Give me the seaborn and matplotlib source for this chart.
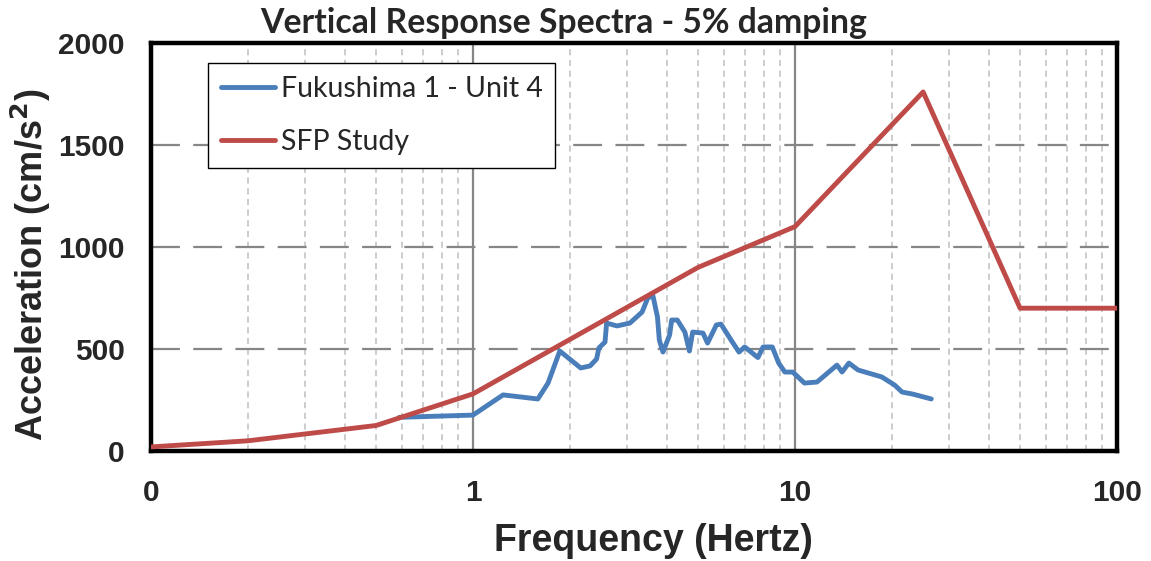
import numpy as np
import pandas as pd
import matplotlib
matplotlib.use("Agg")
import matplotlib.pyplot as plt
from matplotlib.ticker import FixedLocator, NullFormatter, FixedFormatter
from matplotlib.lines import Line2D
import seaborn as sns

# Response spectra data
sfp_freq = [0.1, 0.2, 0.5, 1.0, 5.0, 10.0, 25.0, 50.0, 100.0]
sfp_acc = [20, 50, 125, 280, 900, 1100, 1760, 700, 700]

fuku_freq = [0.59, 1.0, 1.24, 1.59, 1.71, 1.86, 2.16, 2.31, 2.42, 2.46, 2.57, 2.60,
             2.80, 3.07, 3.35, 3.49, 3.62, 3.74, 3.79, 3.89, 4.08, 4.14, 4.31, 4.55,
             4.70, 4.81, 5.18, 5.35, 5.70, 5.89, 6.33, 6.70, 6.98, 7.67, 7.96, 8.50,
             8.90, 9.30, 9.84, 10.7, 11.7, 13.5, 14.0, 14.7, 15.7, 18.6, 20.4, 21.5,
             23.2, 26.5]
fuku_acc = [165, 176, 275, 255, 333, 490, 407, 417, 451, 505, 534, 627,
            613, 627, 681, 750, 762, 657, 544, 485, 569, 642, 642, 583,
            490, 583, 578, 529, 618, 622, 544, 485, 510, 458, 510, 510,
            431, 387, 387, 333, 338, 421, 387, 431, 397, 363, 323, 289,
            279, 255]

series_names = ["Fukushima 1 - Unit 4", "SFP Study"]
x_tick_values = [0.1, 1, 10, 100]
x_tick_labels = ["0", "1", "10", "100"]
y_tick_values = [0, 500, 1000, 1500, 2000]

blue = "#4A7EBB"
red = "#BE4B48"

df = pd.concat([
    pd.DataFrame({"freq": fuku_freq, "acc": fuku_acc, "series": series_names[0]}),
    pd.DataFrame({"freq": sfp_freq, "acc": sfp_acc, "series": series_names[1]}),
], ignore_index=True)

sns.set_theme(style="white")
plt.rcParams["font.family"] = ["Liberation Sans", "DejaVu Sans"]

fig = plt.figure(figsize=(11.51, 5.61), dpi=100)
ax = fig.add_axes([151 / 1151, 110 / 561, 966 / 1151, 408 / 561])

sns.lineplot(data=df, x="freq", y="acc", hue="series", sort=False,
             palette={series_names[0]: blue, series_names[1]: red},
             linewidth=3.5, ax=ax, legend=False, zorder=3)

ax.set_xscale("log")
ax.set_xlim(0.1, 100)
ax.set_ylim(0, 2000)

# grid lines
minor_x = [m * d for d in (0.1, 1, 10) for m in range(2, 10)]
for xv in minor_x:
    ax.axvline(xv, color="#BFBFBF", lw=1.1, dashes=(4, 3), zorder=1)
for xv in (1, 10):
    ax.axvline(xv, color="#868686", lw=1.6, zorder=1.5)
for yv in (500, 1000, 1500):
    ax.axhline(yv, color="#868686", lw=1.6, dashes=(13, 6), zorder=1.5)

# ticks
ax.xaxis.set_major_locator(FixedLocator(x_tick_values))
ax.xaxis.set_major_formatter(FixedFormatter(x_tick_labels))
ax.xaxis.set_minor_locator(FixedLocator(minor_x))
ax.xaxis.set_minor_formatter(NullFormatter())
ax.yaxis.set_major_locator(FixedLocator(y_tick_values))
ax.yaxis.set_minor_locator(FixedLocator(list(range(100, 2000, 100))))
ax.tick_params(axis="both", which="both", direction="in", length=5, width=2.2,
               color="black", top=False, right=False)
ax.tick_params(axis="x", which="major", pad=20, labelsize=21.5)
ax.tick_params(axis="y", which="major", pad=19, labelsize=21.5)
for lab in ax.get_xticklabels() + ax.get_yticklabels():
    lab.set_fontweight("bold")

for sp in ax.spines.values():
    sp.set_visible(True)
    sp.set_color("black")
    sp.set_linewidth(3.2)

ax.set_xlabel("Frequency (Hertz)", fontsize=27, fontweight="bold")
ax.xaxis.set_label_coords((653 - 151) / 966, -(541 - 451) / 408)
ax.xaxis.label.set_va("center")
ax.set_ylabel("Acceleration (cm/s$^\\mathbf{2}$)", fontsize=26, fontweight="bold")
ax.yaxis.set_label_coords(-(151 - 31) / 966, (451 - 265) / 408)
ax.yaxis.label.set_va("center")

fig.text(564 / 1151, 1 - 23 / 561, "Vertical Response Spectra - 5% damping",
         ha="center", va="center", fontsize=24.3, fontweight="bold", family="Lato")

handles = [Line2D([0], [0], color=blue, lw=3.5, solid_capstyle="round"),
           Line2D([0], [0], color=red, lw=3.5, solid_capstyle="round")]
leg = ax.legend(handles, series_names, loc="upper left",
                bbox_to_anchor=(57 / 966, 1 - 20 / 408),
                prop={"family": "Lato", "size": 20.5}, frameon=True, fancybox=False,
                edgecolor="black", framealpha=1, handlelength=1.9, handletextpad=0.2,
                labelspacing=0.95, borderpad=0.45, borderaxespad=0)
leg.get_frame().set_linewidth(1.0)
leg.set_zorder(5)

fig.savefig("out.png", dpi=100)
